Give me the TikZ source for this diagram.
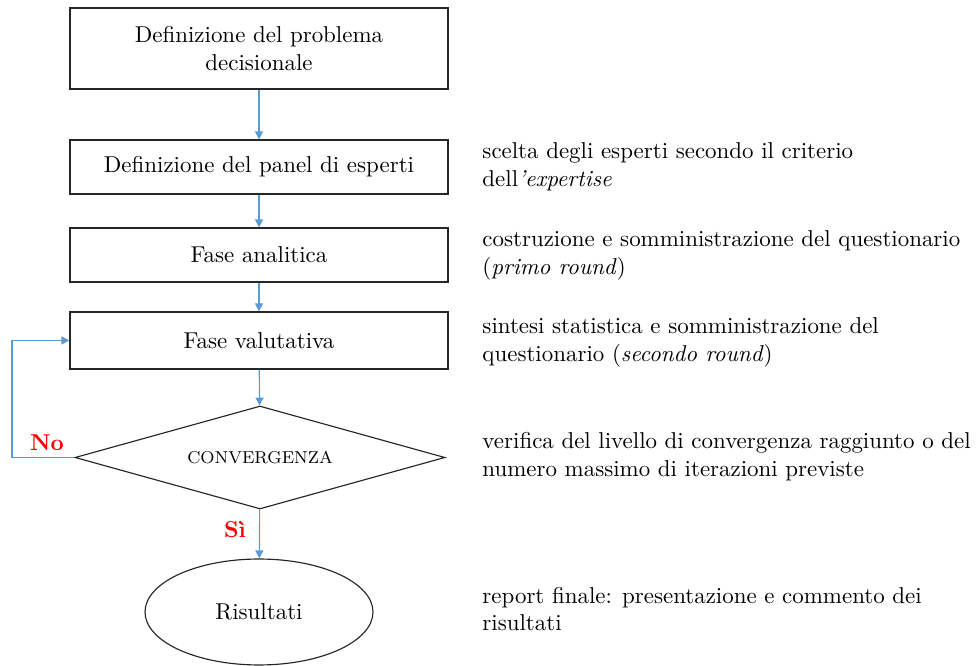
\documentclass[tikz,border=0pt]{standalone}
\usetikzlibrary{shapes.geometric,arrows.meta}
\definecolor{arrowblue}{RGB}{91,155,213}
\begin{document}
\begin{tikzpicture}[x=0.436pt,y=-0.436pt,
  procbox/.style={draw=black!85,line width=0.5pt,rectangle,inner sep=0pt,minimum width=164.8pt,align=center,font=\normalsize},
  flow/.style={draw=arrowblue,line width=0.5pt,-{Triangle[length=3.5pt,width=3.5pt]}},
  note/.style={anchor=west,inner sep=0pt,align=left},
  answer/.style={text=red,font=\bfseries,inner sep=0pt}]
\useasboundingbox (0,0) rectangle (978,666);
\node[procbox,minimum height=35.3pt] (b1) at (259,48.5) {Definizione del problema\\decisionale};
\node[procbox,minimum height=23.5pt] (b2) at (259,167) {Definizione del panel di esperti};
\node[procbox,minimum height=23.5pt] (b3) at (259,255) {Fase analitica};
\node[procbox,minimum height=24.9pt] (b4) at (259,340.5) {Fase valutativa};
\node[draw=black!85,line width=0.5pt,diamond,aspect=3.6,inner sep=0pt,minimum width=161.3pt,minimum height=44.9pt,font=\fontsize{7.5}{9}\selectfont] (d) at (260,457.5) {CONVERGENZA};
\node[draw=black!85,line width=0.5pt,ellipse,inner sep=0pt,minimum width=99.4pt,minimum height=46.2pt] (e) at (259,612) {Risultati};
\coordinate (loopx) at (12,0);
\draw[flow] (b1) -- (b2);
\draw[flow] (b2) -- (b3);
\draw[flow] (b3) -- (b4);
\draw[flow] (b4) -- (d);
\draw[flow] (d) -- (e);
\draw[flow] (d.west) -- (d.west -| loopx) |- (b4.west);
\node[answer] (no) at (47,443) {No};
\node[answer] (si) at (235,530) {Sì};
\node[note] (n1) at (482,167) {scelta degli esperti secondo il criterio\\dell\textit{'expertise}};
\node[note] (n2) at (482,255.5) {costruzione e somministrazione del questionario\\(\textit{primo round})};
\node[note] (n3) at (482,342.5) {sintesi statistica e somministrazione del\\questionario (\textit{secondo round})};
\node[note] (n4) at (482,456.5) {verifica del livello di convergenza raggiunto o del\\numero massimo di iterazioni previste};
\node[note] (n5) at (482,609) {report finale: presentazione e commento dei\\risultati};
\end{tikzpicture}
\end{document}
